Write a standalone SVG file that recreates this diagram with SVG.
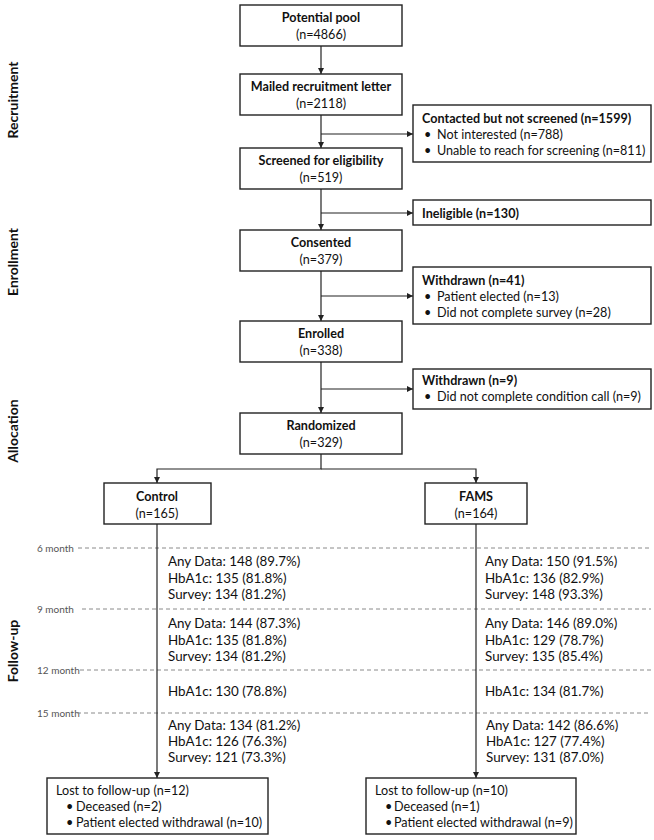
<svg xmlns="http://www.w3.org/2000/svg" width="654" height="840" viewBox="0 0 654 840">
<defs>
<marker id="ah" markerWidth="8" markerHeight="8" refX="6" refY="4" orient="auto" markerUnits="userSpaceOnUse">
<path d="M0,1 L6,4 L0,7 Z" fill="#222"/>
</marker>
<style>
text{font-family:Lato,"Liberation Sans",sans-serif;fill:#111;font-size:12.6px}
.b{font-weight:bold}
.m{text-anchor:middle}
.f{font-size:13.4px}
.box{fill:#fff;stroke:#222;stroke-width:1.4}
.ln{fill:none;stroke:#222;stroke-width:1.2}
.dash{fill:none;stroke:#8a8a8a;stroke-width:1;stroke-dasharray:4 3}
.mo{font-size:10px;fill:#555}
.side{font-size:14px;font-weight:bold;text-anchor:middle}
</style>
</defs>
<rect width="654" height="840" fill="#fff"/>

<g id="phase-labels">
<text class="side" transform="translate(18,100) rotate(-90)">Recruitment</text>
<text class="side" transform="translate(18,262) rotate(-90)">Enrollment</text>
<text class="side" transform="translate(18,431) rotate(-90)">Allocation</text>
<text class="side" transform="translate(18,651) rotate(-90)">Follow-up</text>
</g>

<g id="timepoints">
<text class="mo" x="37" y="551.5">6 month</text>
<line class="dash" x1="78" y1="548" x2="651" y2="548"/>
<text class="mo" x="37" y="612.5">9 month</text>
<line class="dash" x1="82" y1="609" x2="651" y2="609"/>
<text class="mo" x="37" y="673.5">12 month</text>
<line class="dash" x1="80" y1="670" x2="651" y2="670"/>
<text class="mo" x="37" y="716.5">15 month</text>
<line class="dash" x1="77" y1="713" x2="651" y2="713"/>
</g>

<g id="connectors">
<line class="ln" x1="321" y1="46" x2="321" y2="74" marker-end="url(#ah)"/>
<line class="ln" x1="321" y1="115" x2="321" y2="148" marker-end="url(#ah)"/>
<line class="ln" x1="321" y1="134" x2="413" y2="134" marker-end="url(#ah)"/>
<line class="ln" x1="321" y1="189" x2="321" y2="230" marker-end="url(#ah)"/>
<line class="ln" x1="321" y1="213" x2="413" y2="213" marker-end="url(#ah)"/>
<line class="ln" x1="321" y1="271" x2="321" y2="321" marker-end="url(#ah)"/>
<line class="ln" x1="321" y1="296" x2="413" y2="296" marker-end="url(#ah)"/>
<line class="ln" x1="321" y1="362" x2="321" y2="413" marker-end="url(#ah)"/>
<line class="ln" x1="321" y1="389" x2="413" y2="389" marker-end="url(#ah)"/>
<polyline class="ln" points="321,454 321,469 157,469 157,483" marker-end="url(#ah)"/>
<polyline class="ln" points="321,469 476,469 476,483" marker-end="url(#ah)"/>
<line class="ln" x1="157" y1="524" x2="157" y2="778" marker-end="url(#ah)"/>
<line class="ln" x1="476" y1="524" x2="476" y2="778" marker-end="url(#ah)"/>
</g>

<g id="potential-pool">
<rect class="box" x="240" y="5" width="162" height="41"/>
<text class="b m" x="321" y="22">Potential pool</text>
<text class="m" x="321" y="39">(n=4866)</text>
</g>
<g id="mailed">
<rect class="box" x="240" y="74" width="162" height="41"/>
<text class="b m" x="321" y="91">Mailed recruitment letter</text>
<text class="m" x="321" y="108">(n=2118)</text>
</g>
<g id="contacted">
<rect class="box" x="413" y="105" width="238" height="57"/>
<text class="b" x="422" y="123">Contacted but not screened (n=1599)</text>
<text x="424" y="139">•</text><text x="437" y="139">Not interested (n=788)</text>
<text x="424" y="155">•</text><text x="437" y="155">Unable to reach for screening (n=811)</text>
</g>
<g id="screened">
<rect class="box" x="240" y="148" width="162" height="41"/>
<text class="b m" x="321" y="165">Screened for eligibility</text>
<text class="m" x="321" y="182">(n=519)</text>
</g>
<g id="ineligible">
<rect class="box" x="413" y="200" width="238" height="25"/>
<text class="b" x="422" y="217.5">Ineligible (n=130)</text>
</g>
<g id="consented">
<rect class="box" x="240" y="230" width="162" height="41"/>
<text class="b m" x="321" y="247">Consented</text>
<text class="m" x="321" y="264">(n=379)</text>
</g>
<g id="withdrawn-41">
<rect class="box" x="413" y="267" width="238" height="57"/>
<text class="b" x="422" y="285">Withdrawn (n=41)</text>
<text x="424" y="301">•</text><text x="437" y="301">Patient elected (n=13)</text>
<text x="424" y="317">•</text><text x="437" y="317">Did not complete survey (n=28)</text>
</g>
<g id="enrolled">
<rect class="box" x="240" y="321" width="162" height="41"/>
<text class="b m" x="321" y="338">Enrolled</text>
<text class="m" x="321" y="355">(n=338)</text>
</g>
<g id="withdrawn-9">
<rect class="box" x="413" y="369" width="238" height="40"/>
<text class="b" x="422" y="385">Withdrawn (n=9)</text>
<text x="424" y="401">•</text><text x="437" y="401">Did not complete condition call (n=9)</text>
</g>
<g id="randomized">
<rect class="box" x="240" y="413" width="162" height="41"/>
<text class="b m" x="321" y="430">Randomized</text>
<text class="m" x="321" y="447">(n=329)</text>
</g>
<g id="control">
<rect class="box" x="104" y="483" width="107" height="41"/>
<text class="b m" x="157" y="500.5">Control</text>
<text class="m" x="157" y="517.5">(n=165)</text>
</g>
<g id="fams">
<rect class="box" x="425" y="483" width="102" height="41"/>
<text class="b m" x="476" y="500.5">FAMS</text>
<text class="m" x="476" y="517.5">(n=164)</text>
</g>

<g id="control-followup">
<text class="f" x="168" y="566">Any Data: 148 (89.7%)</text>
<text class="f" x="168" y="583">HbA1c: 135 (81.8%)</text>
<text class="f" x="168" y="599">Survey: 134 (81.2%)</text>
<text class="f" x="168" y="628">Any Data: 144 (87.3%)</text>
<text class="f" x="168" y="644.5">HbA1c: 135 (81.8%)</text>
<text class="f" x="168" y="660.5">Survey: 134 (81.2%)</text>
<text class="f" x="168" y="695.5">HbA1c: 130 (78.8%)</text>
<text class="f" x="168" y="729.5">Any Data: 134 (81.2%)</text>
<text class="f" x="168" y="746">HbA1c: 126 (76.3%)</text>
<text class="f" x="168" y="762">Survey: 121 (73.3%)</text>
</g>
<g id="fams-followup">
<text class="f" x="485" y="566">Any Data: 150 (91.5%)</text>
<text class="f" x="485" y="583">HbA1c: 136 (82.9%)</text>
<text class="f" x="485" y="599">Survey: 148 (93.3%)</text>
<text class="f" x="485" y="628">Any Data: 146 (89.0%)</text>
<text class="f" x="485" y="644.5">HbA1c: 129 (78.7%)</text>
<text class="f" x="485" y="660.5">Survey: 135 (85.4%)</text>
<text class="f" x="485" y="695.5">HbA1c: 134 (81.7%)</text>
<text class="f" x="486" y="729.5">Any Data: 142 (86.6%)</text>
<text class="f" x="486" y="746">HbA1c: 127 (77.4%)</text>
<text class="f" x="486" y="762">Survey: 131 (87.0%)</text>
</g>

<g id="lost-control">
<rect class="box" x="47" y="778" width="221" height="56"/>
<text x="56" y="794.5">Lost to follow-up (n=12)</text>
<text x="66" y="811">•</text><text x="76" y="811">Deceased (n=2)</text>
<text x="66" y="827">•</text><text x="76" y="827">Patient elected withdrawal (n=10)</text>
</g>
<g id="lost-fams">
<rect class="box" x="366" y="778" width="210" height="56"/>
<text x="375" y="794.5">Lost to follow-up (n=10)</text>
<text x="385" y="811">•</text><text x="394" y="811">Deceased (n=1)</text>
<text x="385" y="827">•</text><text x="394" y="827">Patient elected withdrawal (n=9)</text>
</g>
</svg>
